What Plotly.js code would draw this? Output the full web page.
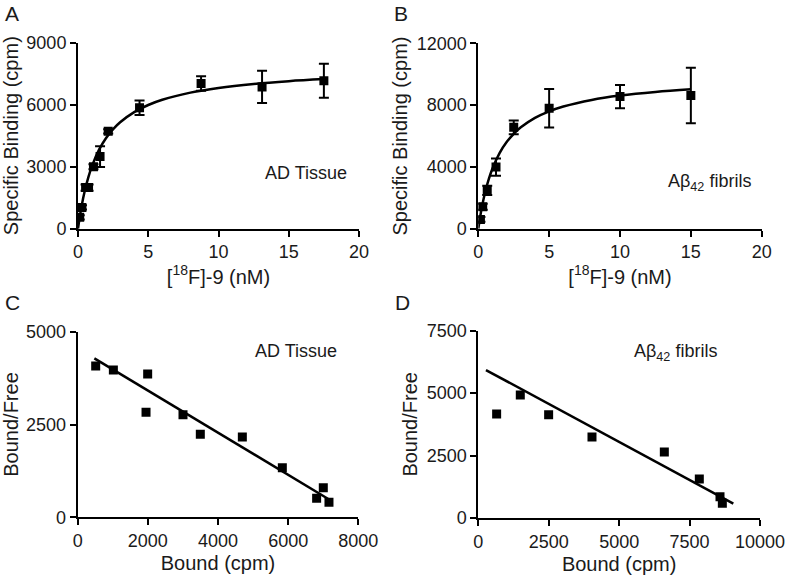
<!DOCTYPE html>
<html>
<head>
<meta charset="utf-8">
<script src="https://cdn.plot.ly/plotly-3.0.1.min.js"></script>
<style>html,body{margin:0;padding:0;background:#fff;}#chart{width:787px;height:577px;}</style>
</head>
<body>
<div id="chart"></div>
<script>
// Panel A: saturation binding, AD tissue
const aConc = [0.12, 0.28, 0.54, 0.75, 1.1, 1.57, 2.15, 4.38, 8.76, 13.1, 17.5];
const aBind = [550, 1030, 1990, 1990, 3000, 3490, 4710, 5850, 7030, 6860, 7160];
const aErr  = [100, 100, 150, 150, 120, 500, 100, 350, 350, 780, 820];
const aFitX = [0, 0.25, 0.5, 0.75, 1, 1.5, 2, 2.5, 3, 4, 5, 6, 8, 10, 12.5, 15, 17.5];
const aFitY = [0, 1068, 1881, 2521, 3038, 3823, 4389, 4817, 5152, 5643, 5985, 6237, 6583, 6810, 7004, 7139, 7238];

// Panel B: saturation binding, Abeta42 fibrils
const bConc = [0.15, 0.31, 0.63, 1.25, 2.5, 5, 10, 15];
const bBind = [600, 1420, 2480, 3990, 6560, 7800, 8550, 8620];
const bErr  = [150, 200, 300, 560, 450, 1250, 750, 1800];
const bFitX = [0, 0.25, 0.5, 0.75, 1, 1.5, 2, 2.5, 3, 4, 5, 6, 8, 10, 12.5, 15];
const bFitY = [0, 1382, 2427, 3245, 3902, 4893, 5606, 6142, 6560, 7171, 7595, 7907, 8335, 8615, 8852, 9018];

// Panel C: Scatchard, AD tissue
const cBound = [513, 1017, 1995, 1948, 3002, 3496, 4694, 5834, 6812, 7002, 7164];
const cRatio = [4075, 3968, 3860, 2828, 2765, 2235, 2163, 1338, 512, 799, 404];
const cLineX = [475, 7240];
const cLineY = [4282, 440];

// Panel D: Scatchard, Abeta42 fibrils
const dBound = [651, 1491, 2497, 4036, 6604, 7846, 8580, 8663];
const dRatio = [4164, 4924, 4137, 3243, 2642, 1561, 854, 587];
const dLineX = [272, 9053];
const dLineY = [5925, 574];

// Tick labels
const abTicks = [0, 5, 10, 15, 20];
const aYTicks = [0, 3000, 6000, 9000];
const bYTicks = [0, 4000, 8000, 12000];
const cXTicks = [0, 2000, 4000, 6000, 8000];
const cYTicks = [0, 2500, 5000];
const dXTicks = [0, 2500, 5000, 7500, 10000];
const dYTicks = [0, 2500, 5000, 7500];

const W = 787, H = 577;
const FONT = 'Liberation Sans, Arial, sans-serif';
const TXT = '#1a1a1a';
const mk = {symbol: 'square', size: 9, color: '#000'};
const eb = (arr) => ({type: 'data', array: arr, visible: true, color: '#000', thickness: 2, width: 5});

const traces = [
  {x: aFitX, y: aFitY, xaxis: 'x', yaxis: 'y', mode: 'lines', line: {color: '#000', width: 2.5, shape: 'spline'}},
  {x: aConc, y: aBind, xaxis: 'x', yaxis: 'y', mode: 'markers', marker: mk, error_y: eb(aErr)},
  {x: bFitX, y: bFitY, xaxis: 'x2', yaxis: 'y2', mode: 'lines', line: {color: '#000', width: 2.5, shape: 'spline'}},
  {x: bConc, y: bBind, xaxis: 'x2', yaxis: 'y2', mode: 'markers', marker: mk, error_y: eb(bErr)},
  {x: cLineX, y: cLineY, xaxis: 'x3', yaxis: 'y3', mode: 'lines', line: {color: '#000', width: 2.5}},
  {x: cBound, y: cRatio, xaxis: 'x3', yaxis: 'y3', mode: 'markers', marker: mk},
  {x: dLineX, y: dLineY, xaxis: 'x4', yaxis: 'y4', mode: 'lines', line: {color: '#000', width: 2.5}},
  {x: dBound, y: dRatio, xaxis: 'x4', yaxis: 'y4', mode: 'markers', marker: mk}
];

function xa(x0, x1, range, ticks, title, anchor) {
  return {
    domain: [x0 / W, x1 / W], range: range, anchor: anchor,
    tickvals: ticks, ticktext: ticks.map(String),
    showline: true, linecolor: '#000', linewidth: 2,
    ticks: 'outside', ticklen: 6, tickwidth: 2, tickcolor: '#000',
    showgrid: false, zeroline: false,
    tickfont: {family: FONT, size: 18, color: TXT},
    title: {text: title, font: {family: FONT, size: 20, color: TXT}, standoff: 6}
  };
}
function ya(y0, y1, range, ticks, title, anchor) {
  return {
    domain: [1 - y1 / H, 1 - y0 / H], range: range, anchor: anchor,
    tickvals: ticks, ticktext: ticks.map(String),
    showline: true, linecolor: '#000', linewidth: 2,
    ticks: 'outside', ticklen: 6, tickwidth: 2, tickcolor: '#000',
    showgrid: false, zeroline: false,
    tickfont: {family: FONT, size: 18, color: TXT},
    title: {text: title, font: {family: FONT, size: 20, color: TXT}, standoff: 4}
  };
}
function note(text, px, py, size) {
  return {text: text, x: px / W, y: 1 - py / H, xref: 'paper', yref: 'paper',
          xanchor: 'center', yanchor: 'middle', showarrow: false,
          font: {family: FONT, size: size, color: TXT}};
}

const xt = '[<sup>18</sup>F]-9 (nM)';
const layout = {
  width: W, height: H,
  margin: {l: 0, r: 0, t: 0, b: 0},
  paper_bgcolor: '#fff', plot_bgcolor: '#fff',
  showlegend: false,
  font: {family: FONT, color: TXT},
  xaxis:  xa(78, 359, [0, 20], abTicks, xt, 'y'),
  yaxis:  ya(42.7, 228.7, [0, 9000], aYTicks, 'Specific Binding (cpm)', 'x'),
  xaxis2: xa(478.3, 761.7, [0, 20], abTicks, xt, 'y2'),
  yaxis2: ya(43.3, 228.7, [0, 12000], bYTicks, 'Specific Binding (cpm)', 'x2'),
  xaxis3: xa(77.7, 358.3, [0, 8000], cXTicks, 'Bound (cpm)', 'y3'),
  yaxis3: ya(331.7, 517.3, [0, 5000], cYTicks, 'Bound/Free', 'x3'),
  xaxis4: xa(478.3, 760, [0, 10000], dXTicks, 'Bound (cpm)', 'y4'),
  yaxis4: ya(330.7, 518, [0, 7500], dYTicks, 'Bound/Free', 'x4'),
  annotations: [
    note('A', 12, 13, 21),
    note('B', 401, 13, 21),
    note('C', 12, 302, 21),
    note('D', 402, 302, 21),
    note('AD Tissue', 306, 173, 18),
    note('Aβ<sub>42</sub> fibrils', 709, 182, 18),
    note('AD Tissue', 296, 351, 18),
    note('Aβ<sub>42</sub> fibrils', 675, 352, 18)
  ]
};

Plotly.newPlot('chart', traces, layout, {staticPlot: true, displayModeBar: false});
</script>
</body>
</html>
